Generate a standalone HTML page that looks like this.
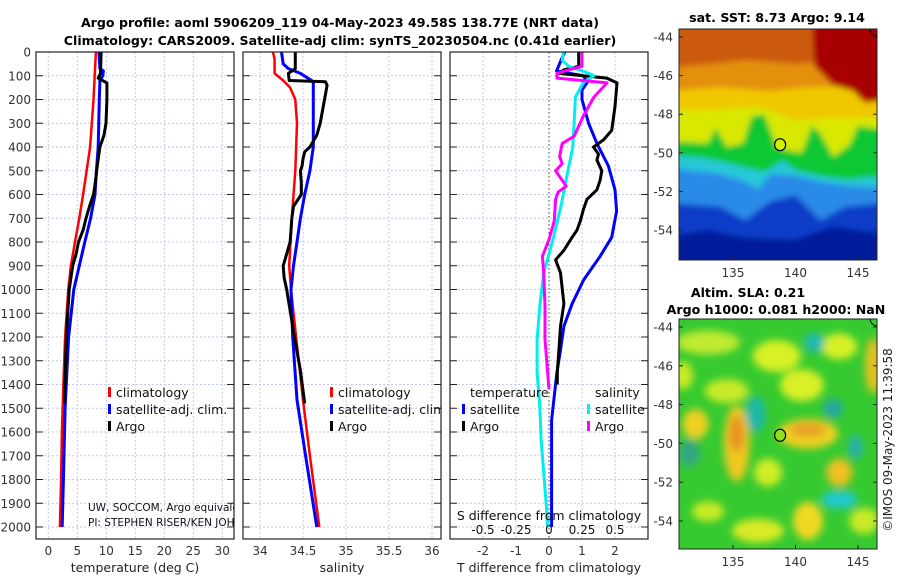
<!DOCTYPE html>
<html><head><meta charset="utf-8"><style>
body{margin:0;background:#fff;}
svg{display:block;font-family:"DejaVu Sans","Liberation Sans",sans-serif;}
</style></head><body>
<svg id="fig" width="900" height="580" viewBox="0 0 900 580" xmlns="http://www.w3.org/2000/svg">
<defs>
<filter id="blur3" x="-10%" y="-10%" width="120%" height="120%"><feGaussianBlur stdDeviation="3"/></filter>
<filter id="blur5" x="-20%" y="-20%" width="140%" height="140%"><feGaussianBlur stdDeviation="4"/></filter>
<clipPath id="clipTop"><rect x="679" y="29" width="198" height="231"/></clipPath>
<clipPath id="clipBot"><rect x="679" y="319" width="198" height="230"/></clipPath>
<clipPath id="clipP1"><rect x="36" y="52" width="198" height="487"/></clipPath>
<clipPath id="clipP2"><rect x="243" y="52" width="198" height="487"/></clipPath>
</defs>
<text x="340" y="27" text-anchor="middle" font-size="12.6" font-weight="bold">Argo profile: aoml 5906209_119 04-May-2023 49.58S 138.77E (NRT data)</text>
<text x="340" y="45" text-anchor="middle" font-size="12.6" font-weight="bold">Climatology: CARS2009. Satellite-adj clim: synTS_20230504.nc (0.41d earlier)</text>
<g id="panels"></g>
<g id="maps"></g>
<text transform="translate(892,440) rotate(-90)" text-anchor="middle" font-size="12" fill="#222">©IMOS 09-May-2023 11:39:58</text>
</svg>
<script>
// ---- data ----
const depthAxis = [0,100,200,300,400,500,600,700,800,900,1000,1100,1200,1300,1400,1500,1600,1700,1800,1900,2000];
const tempTicks = [0,5,10,15,20,25,30];
const salTicks = [34,34.5,35,35.5,36];
const salTickLabels = ["34","34.5","35","35.5","36"];
const tdiffTicks = [-2,-1,0,1,2];
const sdiffTicks = [-0.5,-0.25,0,0.25,0.5];
const sdiffTickLabels = ["-0.5","-0.25","0","0.25","0.5"];

const climDepth = [0,100,200,300,400,500,600,700,800,900,1000,1200,1400,1600,1800,2000];
const climTemp  = [8.2,8.0,7.8,7.5,7.2,6.6,6.0,5.35,4.6,3.9,3.45,2.9,2.6,2.35,2.2,2.0];
const satDepth = [0,70,80,100,120,200,400,500,600,700,800,900,1000,1200,1500,1800,2000];
const satTemp  = [8.75,8.9,9.5,9.4,8.9,8.8,8.6,8.3,8.05,7.3,6.3,5.35,4.4,3.5,2.9,2.6,2.4];
const argoDepth = [0,90,110,130,200,300,350,400,450,500,550,600,650,700,750,800,850,900,1000,1200,1480];
const argoTemp  = [9.1,9.0,8.6,10.1,10.1,9.95,9.6,8.9,8.6,8.35,8.1,7.8,7.1,6.5,6.0,5.2,4.8,4.2,3.6,3.1,2.8];

const climSalDepth = [0,30,90,120,150,200,300,500,700,900,1000,1200,1465,1700,2000];
const climSal = [34.15,34.17,34.17,34.27,34.35,34.41,34.43,34.41,34.37,34.34,34.36,34.42,34.50,34.58,34.69];
const satSalDepth = [0,50,70,90,120,130,300,400,500,600,700,800,900,1000,1200,1465,1700,2000];
const satSal = [34.25,34.27,34.33,34.47,34.6,34.62,34.62,34.62,34.58,34.52,34.47,34.43,34.39,34.36,34.38,34.43,34.53,34.66];
const argoSalDepth = [0,70,90,120,125,140,300,350,400,420,450,480,500,550,600,650,700,750,800,850,900,950,1000,1200,1340,1480];
const argoSal = [34.41,34.41,34.33,34.34,34.76,34.78,34.70,34.66,34.58,34.52,34.50,34.49,34.47,34.48,34.48,34.39,34.37,34.36,34.35,34.31,34.27,34.28,34.31,34.40,34.47,34.52];

const tdSatDepth = [0,30,80,100,130,160,200,300,385,480,580,670,780,860,960,1060,1155,1255,1350,1550,1800,2000];
const tdSat = [0.48,0.38,0.23,1.05,1.15,1.0,1.0,1.2,1.45,1.8,2.0,2.05,1.9,1.55,1.05,0.7,0.45,0.35,0.24,0.08,0.08,0.08];
const tdArgoDepth = [0,60,75,90,110,130,230,330,370,400,430,455,500,540,580,620,660,710,750,780,835,875,930,1060,1155,1255,1350,1400];
const tdArgo = [0.9,0.9,0.45,0.3,1.75,2.06,2.0,1.9,1.65,1.35,1.5,1.45,1.6,1.55,1.45,1.15,1.05,0.95,0.85,0.7,0.45,0.2,0.35,0.45,0.35,0.3,0.25,0.25];
const sdSatDepth = [0,35,60,85,100,130,190,300,400,510,650,790,930,1070,1210,1350,1490,1630,1915,2000];
const sdSat = [0.11,0.1,0.15,0.28,0.34,0.26,0.2,0.19,0.18,0.14,0.09,0.03,-0.04,-0.07,-0.09,-0.09,-0.07,-0.06,-0.02,-0.01];
const sdArgoDepth = [0,60,75,90,110,130,190,270,355,385,440,470,500,540,565,590,620,710,790,860,930,1070,1210,1420];
const sdArgo = [0.25,0.25,0.15,0.06,0.06,0.44,0.34,0.26,0.19,0.1,0.08,0.1,0.05,0.1,0.13,0.07,0.05,0.04,0.0,-0.05,-0.04,-0.03,-0.03,0.0];

const NS = "http://www.w3.org/2000/svg";
const Y0 = 52, PXM = 0.2375, YB = 539;
function yScale(d){ return Y0 + d*PXM; }
function mk(tag, attrs, parent){ const e=document.createElementNS(NS,tag); for(const k in attrs) e.setAttribute(k,attrs[k]); parent.appendChild(e); return e; }
const panels = document.getElementById('panels');

const P = [
 {x0:36,x1:234,name:'temperature-panel',xs:v=>48.3+v*5.8,ticks:tempTicks,labels:tempTicks.map(String),xlabel:'temperature (deg C)'},
 {x0:243,x1:441,name:'salinity-panel',xs:v=>260+(v-34)*86,ticks:salTicks,labels:salTickLabels,xlabel:'salinity'},
 {x0:450,x1:648,name:'difference-panel',xs:v=>549+v*33,ticks:tdiffTicks,labels:tdiffTicks.map(String),xlabel:'T difference from climatology'}
];
P.forEach((p,i)=>{
  const g=mk('g',{},panels);
  
  
  mk('rect',{x:p.x0,y:Y0,width:p.x1-p.x0,height:YB-Y0,fill:'#fff'},g);
  depthAxis.forEach(d=>{
    const y=yScale(d);
    const gl=mk('line',{x1:p.x0,x2:p.x1,y1:y,y2:y,stroke:'#c4c8ee','stroke-width':1,'stroke-dasharray':'2,2'},g);
    
    
    mk('line',{x1:p.x0,x2:p.x0+7,y1:y,y2:y,stroke:'#222','stroke-width':1},g);
    mk('line',{x1:p.x1-7,x2:p.x1,y1:y,y2:y,stroke:'#222','stroke-width':1},g);
  });
  p.ticks.forEach((t,k)=>{
    const x=p.xs(t);
    const gl=mk('line',{x1:x,x2:x,y1:Y0,y2:YB,stroke:'#c4c8ee','stroke-width':1,'stroke-dasharray':'2,2'},g);
    
    
    const tl=mk('text',{x:x,y:555,'text-anchor':'middle','font-size':12,fill:'#333'},g);
    tl.textContent=p.labels[k];
    
    
  });
  const xl=mk('text',{x:(p.x0+p.x1)/2,y:572,'text-anchor':'middle','font-size':12.5,fill:'#222'},g);
  xl.textContent=p.xlabel;
  
  
});
// y labels
depthAxis.forEach(d=>{
  const t=mk('text',{x:31,y:yScale(d)+4.5,'text-anchor':'end','font-size':12,fill:'#333'},panels);
  t.textContent=String(d);
  
  
});
// zero line
const zl=mk('line',{x1:549,x2:549,y1:Y0,y2:YB,stroke:'#444','stroke-width':1,'stroke-dasharray':'1.5,2.5'},panels);



function line(depths, vals, xs, color, w, name){
  const pts=depths.map((d,k)=>xs(vals[k]).toFixed(1)+','+yScale(d).toFixed(1)).join(' ');
  const pl=mk('polyline',{points:pts,fill:'none',stroke:color,'stroke-width':w,'stroke-linejoin':'round'},panels);
  
  
}
line(climDepth,climTemp,P[0].xs,'#f00',2.5,'temp-climatology-line');
line(satDepth,satTemp,P[0].xs,'#00f',3,'temp-satellite-line');
line(argoDepth,argoTemp,P[0].xs,'#000',3,'temp-argo-line');
line(climSalDepth,climSal,P[1].xs,'#f00',2.5,'sal-climatology-line');
line(satSalDepth,satSal,P[1].xs,'#00f',3,'sal-satellite-line');
line(argoSalDepth,argoSal,P[1].xs,'#000',3,'sal-argo-line');
const sdx=v=>549+v*132;
line(tdSatDepth,tdSat,P[2].xs,'#00f',3,'tdiff-satellite-line');
line(tdArgoDepth,tdArgo,P[2].xs,'#000',3,'tdiff-argo-line');
line(sdSatDepth,sdSat,sdx,'#0ee',3,'sdiff-satellite-line');
line(sdArgoDepth,sdArgo,sdx,'#f0f',3,'sdiff-argo-line');

// frames
P.forEach(p=>{
  mk('rect',{x:p.x0,y:Y0,width:p.x1-p.x0,height:YB-Y0,fill:'none',stroke:'#222','stroke-width':1.2},panels);
});

// legends
function leg(x,y,color,label,name,clip){
  const g=mk('g',clip?{'clip-path':clip}:{},panels);
  
  
  mk('rect',{x:x,y:y-10,width:3,height:10,fill:color},g);
  const t=mk('text',{x:x+8,y:y,'font-size':12.5,fill:'#111'},g);
  t.textContent=label;
}
leg(108,397,'#f00','climatology','legend-entry-climatology','url(#clipP1)');
leg(108,414,'#00f','satellite-adj. clim.','legend-entry-satellite','url(#clipP1)');
leg(108,431,'#000','Argo','legend-entry-argo','url(#clipP1)');
leg(330,397,'#f00','climatology','legend-entry-climatology','url(#clipP2)');
leg(330,414,'#00f','satellite-adj. clim.','legend-entry-satellite','url(#clipP2)');
leg(330,431,'#000','Argo','legend-entry-argo','url(#clipP2)');
const tt=mk('text',{x:470,y:397,'font-size':12.5,fill:'#111'},panels); tt.textContent='temperature';


const st=mk('text',{x:595,y:397,'font-size':12.5,fill:'#111'},panels); st.textContent='salinity';


leg(462,414,'#00f','satellite','legend-entry-t-satellite');
leg(462,431,'#000','Argo','legend-entry-t-argo');
leg(587,414,'#0ee','satellite','legend-entry-s-satellite');
leg(587,431,'#f0f','Argo','legend-entry-s-argo');

// S diff secondary axis labels
const sdt=mk('text',{x:549,y:520,'text-anchor':'middle','font-size':12.5,fill:'#111'},panels);
sdt.textContent='S difference from climatology';


sdiffTicks.forEach((v,k)=>{
  const t=mk('text',{x:sdx(v),y:534,'text-anchor':'middle','font-size':12,fill:'#111'},panels);
  t.textContent=sdiffTickLabels[k];
  
  
});
// PI text
const pig=mk('g',{'clip-path':'url(#clipP1)'},panels);
const pi1=mk('text',{x:88,y:511,'font-size':10.5,fill:'#111'},pig); pi1.textContent='UW, SOCCOM, Argo equivalent';


const pi2=mk('text',{x:88,y:526,'font-size':10.5,fill:'#111'},pig); pi2.textContent='PI: STEPHEN RISER/KEN JOHNSON';



// ---- maps ----
const maps=document.getElementById('maps');
const lonX=lon=>733+(lon-135)*12.5;
const latYt=lat=>37+(-44-lat)*19.3;
const latYb=lat=>327+(-44-lat)*19.4;
function poly(g,pts,fy,fill){ mk('polygon',{points:pts.map(p=>lonX(p[0]).toFixed(1)+','+fy(p[1]).toFixed(1)).join(' '),fill:fill},g); }
// top map
const tm=mk('g',{'clip-path':'url(#clipTop)'},maps);


const tmb=mk('g',{filter:'url(#blur3)'},tm);
mk('rect',{x:670,y:20,width:220,height:250,fill:'#001b9a'},tmb);
poly(tmb,[[130,-43],[147,-43],[147,-54.2],[143,-53.8],[140,-54.5],[136,-54.4],[133,-54],[130,-54.3]],latYt,'#0a3cc8');
poly(tmb,[[130,-43],[147,-43],[147,-52.6],[144,-52.8],[142,-53.5],[140,-52.2],[138,-52.5],[136,-53.5],[134,-52.8],[130,-52.6]],latYt,'#2a8ae8');
poly(tmb,[[130,-43],[147,-43],[147,-51.8],[144,-51.7],[142,-51.5],[140,-51.2],[138,-51.1],[137,-51.9],[136,-51.5],[134,-51.1],[130,-50.8]],latYt,'#28c8d8');
poly(tmb,[[130,-43],[147,-43],[147,-51.2],[144,-51.4],[142,-51.2],[140,-50.9],[139,-50.4],[137.5,-51],[135,-50.6],[133,-50.3],[130,-50.1]],latYt,'#10c830');
poly(tmb,[[130,-43],[147,-43],[147,-48.8],[145,-48.6],[144.3,-49.6],[143,-50.2],[142,-49],[141.3,-48.6],[140.5,-50],[139.5,-49.9],[138.5,-49.7],[137.5,-48],[136.5,-48.1],[135.8,-49.5],[134.5,-49.7],[133.6,-48.7],[133,-49.5],[130,-49.4]],latYt,'#d8e800');
poly(tmb,[[130,-43],[147,-43],[147,-48.2],[143,-48.2],[140,-48.3],[137,-47.6],[133,-47.8],[130,-47.8]],latYt,'#f0c800');
poly(tmb,[[130,-43],[147,-43],[147,-46.5],[141,-46.6],[138,-46.8],[134,-46.6],[130,-46.8]],latYt,'#e49010');
poly(tmb,[[130,-43],[147,-43],[147,-45],[140,-45.4],[136,-45.2],[130,-45.6]],latYt,'#cc5a08');
poly(tmb,[[141.3,-43],[147,-43],[147,-47.3],[145.5,-47.4],[144.6,-46.8],[143,-46.5],[141.5,-45.5]],latYt,'#a80000');
// bottom map
const bm=mk('g',{'clip-path':'url(#clipBot)'},maps);


mk('rect',{x:679,y:319,width:198,height:230,fill:'#36ca30'},bm);
const bb=mk('g',{filter:'url(#blur5)'},bm);
const blobs=[
 [133,-44.8,32,12,'#c0ea30'],[138.5,-45.5,24,16,'#d8f028'],[143.5,-45,18,13,'#d8f028'],[146.2,-46,8,28,'#e8c020'],
 [134.5,-47.3,22,12,'#c8ea28'],[140.5,-47,22,16,'#d8f028'],[132,-49,13,15,'#f0d020'],[135.3,-50,13,38,'#f0c820'],
 [135.3,-49.5,7,18,'#e89020'],[141,-49.5,30,15,'#f0d020'],[141,-49.3,18,7,'#e8a028'],[143.5,-51.5,13,14,'#f0c020'],
 [141,-54,15,19,'#f0d820'],[137,-54.5,26,12,'#d8ea28'],[133,-53.5,16,10,'#c8ea28'],[145.5,-54,15,13,'#c8ea28'],
 [137.8,-51.5,14,14,'#d0ec28'],[131,-46.5,10,14,'#c8ea28'],
 [136.8,-48.5,10,18,'#1ab8a8'],[141.5,-44.8,10,10,'#20b8b0'],[143,-48.2,10,10,'#28a8a0'],[144.8,-50.2,7,12,'#28b0b0'],
 [143.5,-52.9,18,9,'#20c8d0'],[131.5,-50.5,11,14,'#30a880']
];
blobs.forEach(b=>{ mk('ellipse',{cx:lonX(b[0]),cy:latYb(b[1]),rx:b[2],ry:b[3],fill:b[4]},bb); });
// circles, frames, ticks
function mapAxes(fy, top, bot, circFill, name){
  const g=mk('g',{},maps);
  
  
  mk('rect',{x:679,y:top,width:198,height:bot-top,fill:'none',stroke:'#222','stroke-width':1},g);
  [-44,-46,-48,-50,-52,-54].forEach(l=>{
    const y=fy(l);
    mk('line',{x1:679,x2:683,y1:y,y2:y,stroke:'#222'},g);
    mk('line',{x1:873,x2:877,y1:y,y2:y,stroke:'#222'},g);
    const t=mk('text',{x:673,y:y+4.5,'text-anchor':'end','font-size':12,fill:'#333'},g); t.textContent=String(l);
  });
  [135,140,145].forEach(l=>{
    const x=lonX(l);
    mk('line',{x1:x,x2:x,y1:bot-4,y2:bot,stroke:'#222'},g);
    const t=mk('text',{x:x,y:bot+17,'text-anchor':'middle','font-size':12,fill:'#333'},g); t.textContent=String(l);
  });
  const c=mk('ellipse',{cx:lonX(138.77),cy:fy(-49.58),rx:5.5,ry:6,fill:circFill,stroke:'#000','stroke-width':1.2},g);
  
  
  mk('path',{d:'M870,'+(top)+' A8,8 0 0 0 877,'+(top+7),fill:'none',stroke:'#000','stroke-width':1},g);
}
mapAxes(latYt,29,260,'#d0f000','sst-map-axes');
mapAxes(latYb,319,549,'#90e020','sla-map-axes');
const t1=mk('text',{x:777,y:22,'text-anchor':'middle','font-size':12.6,'font-weight':'bold'},maps); t1.textContent='sat. SST: 8.73 Argo: 9.14';


const t2=mk('text',{x:748,y:297,'text-anchor':'middle','font-size':12.6,'font-weight':'bold'},maps); t2.textContent='Altim. SLA: 0.21';


const t3=mk('text',{x:776,y:314,'text-anchor':'middle','font-size':12.6,'font-weight':'bold'},maps); t3.textContent='Argo h1000: 0.081 h2000: NaN';


</script>
</body></html>
